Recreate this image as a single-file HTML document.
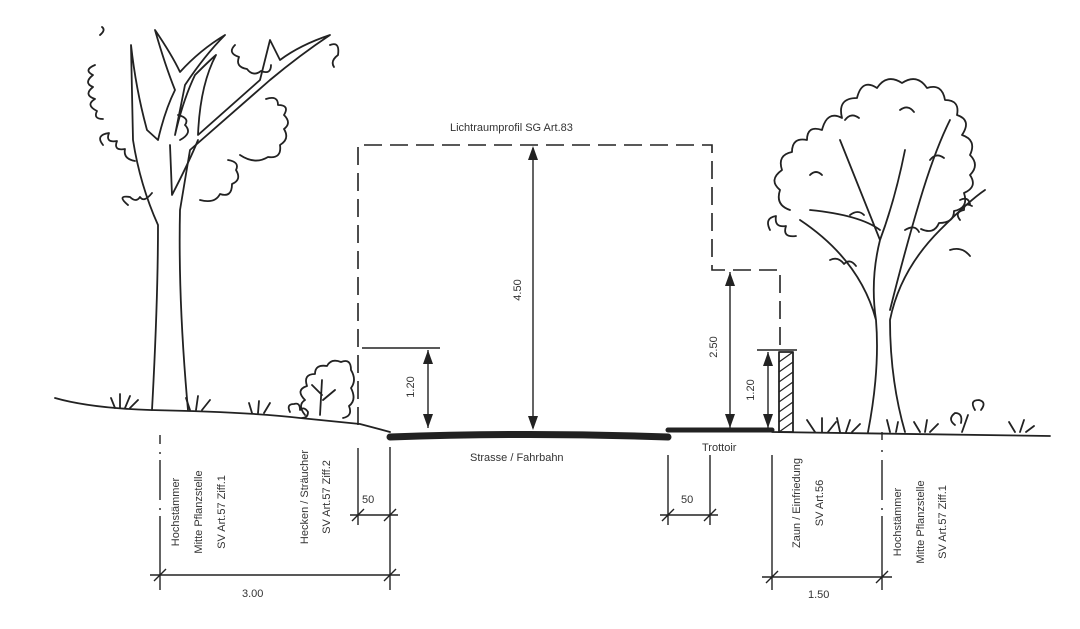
<!DOCTYPE html>
<html><head><meta charset="utf-8"><style>
html,body{margin:0;padding:0;background:#fff;}
svg{display:block;}
text{font-family:"Liberation Sans",sans-serif;fill:#333;font-size:11px;}
</style></head><body>
<svg width="1080" height="629" viewBox="0 0 1080 629" xmlns="http://www.w3.org/2000/svg">
<g fill="none" stroke="#222" stroke-width="1.8" stroke-linecap="round" stroke-linejoin="round">
<!-- ground -->
<path d="M55 398 Q90 408 150 410 Q250 412 300 418 Q340 422 360 424 L390 432"/>
<path d="M772 432 Q900 434 1050 436"/>
<!-- road -->
<path d="M390 437 Q530 432 668 437" stroke-width="7"/>
<path d="M668 430 L772 430" stroke-width="5"/>
<!-- left tree -->
<path d="M152 410 Q158 300 158 225 Q140 185 133 140 L131 45 Q136 90 147 130 L158 140 Q165 110 175 90 Q165 65 155 30 Q172 55 180 72 Q200 50 225 35 Q205 55 185 85 L175 135 Q183 100 195 75 Q210 60 216 55 Q200 85 198 135 L260 80 L270 40 L280 60 Q300 45 330 35 Q300 55 270 80 Q230 115 190 150 L180 210 Q178 300 188 410"/>
<path d="M170 145 L172 195 Q190 160 198 140"/>
<path d="M178 115 Q190 118 185 125 Q193 133 180 140"/>
<path d="M100 35 q6 -5 2 -8 M95 65 q-12 5 -2 10 q-10 8 0 12 q-10 8 2 12 q-10 6 2 12 q-4 8 6 8 M103 145 q-8 -10 6 -12 q-4 10 8 8 q-4 10 8 8 q-2 10 10 12 M128 205 q-12 -10 2 -8 q6 6 10 0 q4 6 12 -4"/>
<path d="M200 200 q15 4 20 -6 q12 4 12 -10 q10 -4 4 -14 q4 -8 -8 -10 M240 155 q15 10 28 2 q14 2 12 -12 q10 -6 4 -16 q8 -6 0 -14 q6 -10 -6 -10 q0 -10 -12 -6 M235 45 q-8 8 4 12 q-4 10 8 12 q6 8 14 2 q10 4 10 -6 M330 45 q10 -4 8 10 q-8 6 -4 12"/>
<!-- shrub -->
<path d="M305 415 q-8 -10 0 -15 q-10 -10 2 -14 q-4 -12 8 -12 q0 -10 12 -8 q4 -8 14 -4 q10 -4 10 8 q6 10 0 18 q6 12 -2 18 q4 10 -6 12"/>
<path d="M320 415 L322 380 M322 395 L312 385 M323 400 L335 390"/>
<path d="M290 412 q-4 -8 4 -8 q6 -2 6 6 q4 -4 8 2 q0 6 -6 6"/>
<!-- grass -->
<path d="M115 408 l-4 -10 M120 408 l0 -14 M125 408 l5 -12 M130 408 l8 -8 M190 410 l-4 -12 M196 410 l2 -14 M202 410 l8 -10 M252 413 l-3 -10 M258 413 l1 -12 M264 413 l6 -10"/>
<path d="M815 432 l-8 -12 M822 432 l0 -14 M828 432 l8 -10 M840 432 l-3 -14 M846 432 l4 -12 M852 432 l8 -8 M890 432 l-3 -12 M896 432 l2 -10 M920 432 l-6 -10 M925 432 l2 -12 M930 432 l8 -8 M1015 432 l-6 -10 M1020 432 l4 -12 M1026 432 l8 -6"/>
<path d="M955 425 q-8 -6 0 -12 q8 0 6 10 M975 410 q-6 -10 4 -10 q8 2 2 10 M962 432 L968 415"/>
<!-- right tree -->
<path d="M868 432 Q880 370 876 320 Q860 260 800 220 M905 432 Q890 380 890 320 Q900 270 940 230 Q970 200 985 190 M876 320 Q870 280 880 240 Q860 190 840 140 M890 310 Q905 250 920 200 Q935 150 950 120 M880 240 Q895 200 905 150 M880 230 Q860 215 810 210"/>
<path d="M790 210 q-15 -5 -10 -20 q-12 -10 2 -20 q-5 -15 10 -18 q0 -15 15 -12 q0 -15 15 -10 q5 -20 20 -12 q-5 -20 15 -20 q5 -20 20 -10 q10 -15 25 -5 q15 -10 25 5 q15 -5 18 12 q15 0 12 15 q15 5 5 20 q15 5 8 20 q10 10 0 20 q8 12 -6 18 q5 15 -10 18 q0 12 -15 12 q-5 12 -18 6"/>
<path d="M770 230 q-6 -12 6 -14 q-2 12 10 10 q-4 12 10 10 M830 260 q8 -4 14 4 q6 -6 12 2 M950 250 q12 -4 20 6 M960 220 q-6 -8 4 -10 q0 -8 8 -4"/>
<path d="M810 175 q6 -6 12 0 M845 120 q6 -8 14 -2 M900 110 q8 -6 14 2 M930 160 q6 -8 14 -2 M850 215 q8 -6 14 0 M905 230 q10 -6 14 2 M960 200 q8 -4 10 4"/>
<!-- fence -->
<rect x="779" y="352" width="14" height="80"/>
<path d="M779 362 l14 -10 M779 372 l14 -10 M779 382 l14 -10 M779 392 l14 -10 M779 402 l14 -10 M779 412 l14 -10 M779 422 l14 -10 M779 432 l14 -10" stroke-width="1.2"/>
</g>
<!-- lichtraum dashed -->
<g fill="none" stroke="#222" stroke-width="1.6" stroke-dasharray="18 8">
<path d="M358 425 L358 145 L712 145 L712 270 L780 270 L780 352"/>
</g>
<g fill="none" stroke="#222" stroke-width="1.4">
<path d="M533 148 L533 428"/>
<path d="M362 348 L440 348 M428 350 L428 428"/>
<path d="M730 272 L730 428"/>
<path d="M757 350 L797 350 M768 352 L768 428"/>
<path d="M160 435 L160 444 M160 452 L160 454 M160 460 L160 500 M160 508 L160 510 M160 516 L160 590" />
<path d="M358 448 L358 525 M390 447 L390 590 M350 515 L398 515 M150 575 L400 575"/>
<path d="M352 521 l12 -12 M384 521 l12 -12 M154 581 l12 -12 M384 581 l12 -12"/>
<path d="M668 455 L668 525 M710 455 L710 525 M660 515 L718 515 M662 521 l12 -12 M704 521 l12 -12"/>
<path d="M772 455 L772 590 M882 432 L882 440 M882 450 L882 452 M882 460 L882 500 M882 508 L882 510 M882 516 L882 590 M762 577 L892 577 M766 583 l12 -12 M876 583 l12 -12"/>
</g>
<g fill="#222">
<path d="M533 146 l-5 14 l10 0 z M533 430 l-5 -14 l10 0 z"/>
<path d="M428 350 l-5 14 l10 0 z M428 428 l-5 -14 l10 0 z"/>
<path d="M730 272 l-5 14 l10 0 z M730 428 l-5 -14 l10 0 z"/>
<path d="M768 352 l-5 14 l10 0 z M768 428 l-5 -14 l10 0 z"/>
</g>
<text x="450" y="131">Lichtraumprofil SG Art.83</text>
<text x="470" y="461">Strasse / Fahrbahn</text>
<text x="702" y="451">Trottoir</text>
<text x="362" y="503">50</text>
<text x="681" y="503">50</text>
<text x="242" y="597">3.00</text>
<text x="808" y="598">1.50</text>
<text transform="translate(521,290) rotate(-90)" text-anchor="middle">4.50</text>
<text transform="translate(414,387) rotate(-90)" text-anchor="middle">1.20</text>
<text transform="translate(717,347) rotate(-90)" text-anchor="middle">2.50</text>
<text transform="translate(754,390) rotate(-90)" text-anchor="middle">1.20</text>
<g font-size="10.5">
<text transform="translate(179,512) rotate(-90)" text-anchor="middle">Hochstämmer</text>
<text transform="translate(202,512) rotate(-90)" text-anchor="middle">Mitte Pflanzstelle</text>
<text transform="translate(225,512) rotate(-90)" text-anchor="middle">SV Art.57 Ziff.1</text>
<text transform="translate(308,497) rotate(-90)" text-anchor="middle">Hecken / Sträucher</text>
<text transform="translate(330,497) rotate(-90)" text-anchor="middle">SV Art.57 Ziff.2</text>
<text transform="translate(800,503) rotate(-90)" text-anchor="middle">Zaun / Einfriedung</text>
<text transform="translate(823,503) rotate(-90)" text-anchor="middle">SV Art.56</text>
<text transform="translate(901,522) rotate(-90)" text-anchor="middle">Hochstämmer</text>
<text transform="translate(924,522) rotate(-90)" text-anchor="middle">Mitte Pflanzstelle</text>
<text transform="translate(946,522) rotate(-90)" text-anchor="middle">SV Art.57 Ziff.1</text>
</g>
</svg>
</body></html>
